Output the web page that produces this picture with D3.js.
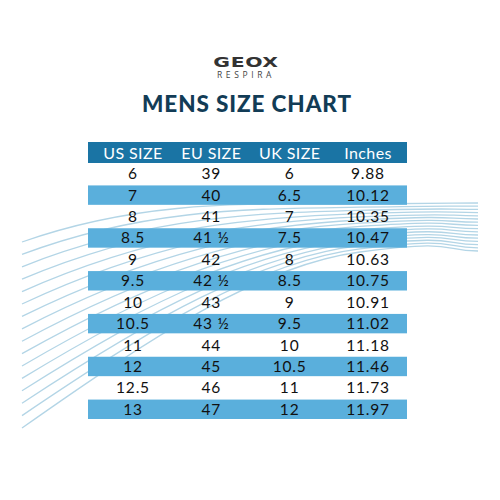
<!DOCTYPE html>
<html><head><meta charset="utf-8">
<script src="https://cdn.jsdelivr.net/npm/d3@7"></script>
<style>body{margin:0;background:#fff}</style>
</head><body><svg id="c"></svg>
<script>
const columns = ["US SIZE", "EU SIZE", "UK SIZE", "Inches"];
const usSizes = ["6", "7", "8", "8.5", "9", "9.5", "10", "10.5", "11", "12", "12.5", "13"];
const euSizes = ["39", "40", "41", "41 ½", "42", "42 ½", "43", "43 ½", "44", "45", "46", "47"];
const ukSizes = ["6", "6.5", "7", "7.5", "8", "8.5", "9", "9.5", "10", "10.5", "11", "12"];
const inches = ["9.88", "10.12", "10.35", "10.47", "10.63", "10.75", "10.91", "11.02", "11.18", "11.46", "11.73", "11.97"];
const waveStarts = d3.range(16).map(i => i); // wave index

const width = 500, height = 500;
const svg = d3.select("#c").attr("width", width).attr("height", height);

// Background waves
const waveG = svg.append("g");
waveStarts.forEach(i => {
  const y0 = 242 + i * 12.4;
  const y1 = 203 + i * 3.2;
  const ctrlY = 205 + i * 4;
  waveG.append("path")
    .attr("d", `M22,${y0} C150,${y0 - 45 - i * 3} 260,${ctrlY} 360,${y1 + 1} S440,${y1} 478,${y1}`)
    .attr("fill", "none")
    .attr("stroke", "#b3d5e6")
    .attr("stroke-width", 1.3);
});

// Logo and title
svg.append("text").attr("x", 246).attr("y", 67).attr("text-anchor", "middle")
  .attr("font-family", "'DejaVu Sans', sans-serif").attr("font-weight", "bold")
  .attr("font-size", 17).attr("fill", "#333").attr("letter-spacing", 0.5)
  .attr("transform", "translate(246,67) scale(1.2,0.85) translate(-246,-67)").text("GEOX");
svg.append("text").attr("x", 246).attr("y", 78).attr("text-anchor", "middle")
  .attr("font-family", "'Open Sans', sans-serif").attr("font-size", 8.5)
  .attr("fill", "#444").attr("letter-spacing", 3.6).text("RESPIRA");
svg.append("text").attr("x", 247).attr("y", 112).attr("text-anchor", "middle")
  .attr("font-family", "Lato, sans-serif").attr("font-weight", 900)
  .attr("font-size", 22.5).attr("fill", "#123c56").attr("letter-spacing", 0.9).text("MENS SIZE CHART");

// Table
const rows = usSizes.map((d, i) => [d, euSizes[i], ukSizes[i], inches[i]]);
const colX = d3.scalePoint().domain(columns).range([133, 368]);
const rowY = d3.scaleBand().domain(d3.range(rows.length)).range([163, 420]);

svg.append("rect").attr("x", 88).attr("y", 142).attr("width", 319).attr("height", 21).attr("fill", "#1a74a4");
columns.forEach(c => {
  svg.append("text").attr("x", colX(c)).attr("y", 158.5).attr("text-anchor", "middle")
    .attr("font-family", "Lato, sans-serif").attr("font-size", 16).attr("fill", "#fff")
    .attr("letter-spacing", 0.4).text(c);
});

const rowG = svg.selectAll("g.row").data(rows).join("g").attr("class", "row")
  .attr("transform", (d, i) => `translate(0,${rowY(i)})`);
rowG.filter((d, i) => i % 2 === 1).append("rect")
  .attr("x", 88).attr("y", 1).attr("width", 319).attr("height", rowY.bandwidth() - 2)
  .attr("fill", "#5aafdc");
rowG.selectAll("text").data(d => d.map((v, j) => ({ v, c: columns[j] }))).join("text")
  .attr("x", d => colX(d.c)).attr("y", rowY.bandwidth() / 2 + 5.5)
  .attr("text-anchor", "middle").attr("font-family", "Lato, sans-serif")
  .attr("font-size", 15.5).attr("fill", "#111").attr("letter-spacing", 0.8).text(d => d.v);
</script></body></html>
